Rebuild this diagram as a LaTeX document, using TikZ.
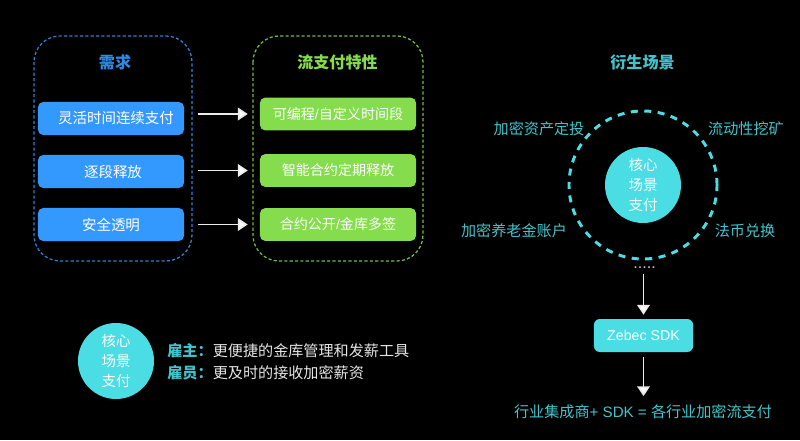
\documentclass[tikz,border=0pt]{standalone}
\usepackage{fontspec}
\setmainfont{Noto Sans CJK SC}
\newfontfamily\latinfont{Liberation Sans}
\usetikzlibrary{arrows.meta}
\definecolor{needblue}{HTML}{3399FF}
\definecolor{flowgreen}{HTML}{85DC4C}
\definecolor{corecyan}{HTML}{4ADDE4}
\definecolor{labelcyan}{HTML}{42C4CC}
\tikzset{
	txt/.style={text=white,inner sep=0pt,font=\fontsize{10.3}{14.5}\selectfont},
	label/.style={txt,text=labelcyan,font=\fontsize{10.75}{14.5}\selectfont},
	head/.style={inner sep=0pt,font=\fontsize{11.4}{14}\selectfont\bfseries},
	needbox/.style={txt,fill=needblue,rounded corners=0.13cm,minimum width=3.65cm,minimum height=0.825cm},
	flowbox/.style={txt,fill=flowgreen,rounded corners=0.13cm,minimum width=3.9cm,minimum height=0.82cm,font=\fontsize{10}{14}\selectfont},
	corecircle/.style={txt,circle,fill=corecyan,minimum size=1.9cm,align=center},
	whitearrow/.style={draw=white!92!black,line width=1.3pt,-{Triangle[length=7pt,width=9pt,fill=white]}},
}
\begin{document}
\begin{tikzpicture}[x=0.025cm,y=-0.025cm]
	\fill[black] (0,0) rectangle (800,440);
	%hinh1
	\draw[needblue!85!black,line width=0.9pt,dash pattern=on 2.2pt off 1.6pt,rounded corners=0.65cm] (34,36) rectangle (192,261);
	\draw[flowgreen!85!black,line width=0.9pt,dash pattern=on 2.2pt off 1.6pt,rounded corners=0.65cm] (253,36) rectangle (423,261);
	\node[head,text=needblue!90!black] (needtitle) at (115,62.5) {需求};
	\node[head,text=flowgreen] (flowtitle) at (337.5,62.5) {流支付特性};
	\node[needbox] (needa) at (111,118.5) {\hspace*{0.25cm}灵活时间连续支付};
	\node[needbox] (needb) at (111,171.5) {\hspace*{0.1cm}逐段释放};
	\node[needbox] (needc) at (111,224.5) {安全透明};
	\node[flowbox] (flowa) at (338,114) {可编程{\latinfont/}自定义时间段};
	\node[flowbox] (flowb) at (338,170.5) {智能合约定期释放};
	\node[flowbox] (flowc) at (338,224.5) {合约公开{\latinfont/}金库多签};
	\draw[whitearrow,shorten <=0.35cm,shorten >=0.3cm] (needa.east |- flowa.west) -- (flowa.west);
	\draw[whitearrow,shorten <=0.35cm,shorten >=0.3cm] (needb.east |- flowb.west) -- (flowb.west);
	\draw[whitearrow,shorten <=0.35cm,shorten >=0.3cm] (needc.east) -- (flowc.west);
	%hinh2
	\node[head,text=labelcyan] (scenetitle) at (642.5,62.5) {衍生场景};
	\draw[corecyan,line width=2.1pt,dash pattern=on 5pt off 4.6pt] (643,185) circle (1.85cm);
	\node[corecircle] (scenecore) at (643,185) {核心\\场景\\支付};
	\node[label] (scenea) at (539,128.5) {加密资产定投};
	\node[label] (sceneb) at (746,128.5) {流动性挖矿};
	\node[label] (scenec) at (514,230.5) {加密养老金账户};
	\node[label] (scened) at (745,230.5) {法币兑换};
	\node[txt,text=white!80!black,font=\fontsize{11.5}{11.5}\latinfont] (dots) at (644.5,268) {.....};
	\node[txt,fill=corecyan,rounded corners=0.15cm,minimum width=2.48cm,minimum height=0.825cm,font=\fontsize{10.1}{12}\latinfont] (sdk) at (643.5,335.5) {Zebec SDK};
	\node[label] (result) at (643,411.5) {行业集成商{\latinfont+ SDK = }各行业加密流支付};
	\draw[whitearrow,shorten <=0.12cm,shorten >=0.1cm] (dots.south -| sdk.north) -- (sdk.north);
	\draw[whitearrow,shorten <=0.12cm,shorten >=0.2cm] (sdk.south) -- (result.north -| sdk.south);
	%hinh3
	\node[corecircle] (corenode) at (116,361) {核心\\场景\\支付};
	\node[head,text=labelcyan,anchor=west,font=\fontsize{10.75}{14}\selectfont\bfseries] (employer) at (167,351) {雇主：};
	\node[head,text=labelcyan,anchor=west,font=\fontsize{10.75}{14}\selectfont\bfseries] (employee) at (167,373) {雇员：};
	\node[txt,text=white!90!black,anchor=west,font=\fontsize{10.75}{14}\selectfont] (employertext) at (212.5,351) {更便捷的金库管理和发薪工具};
	\node[txt,text=white!90!black,anchor=west,font=\fontsize{10.75}{14}\selectfont] (employeetext) at (212.5,373) {更及时的接收加密薪资};
\end{tikzpicture}
\end{document}
